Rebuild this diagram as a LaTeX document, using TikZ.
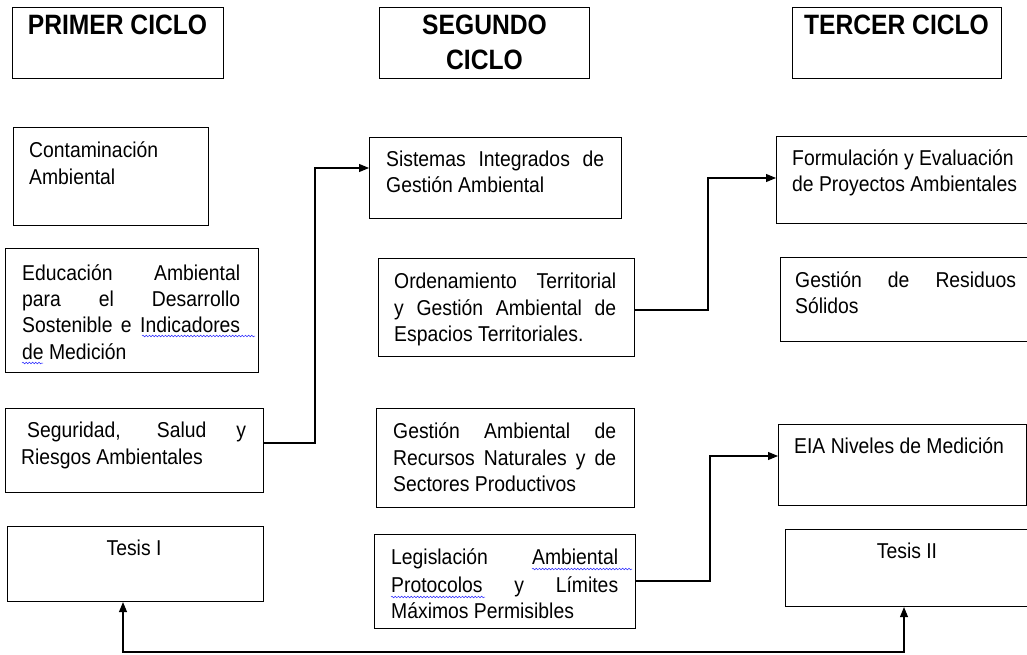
\documentclass[tikz,border=0pt]{standalone}
\usepackage{fontspec}
\setmainfont{Liberation Sans}[FakeStretch=0.9]
\newfontfamily\headfont{Liberation Sans}[FakeStretch=0.88]
\usetikzlibrary{arrows.meta,decorations.pathmorphing}
\newcommand\mytl[4]{\node[txt] (#1) at (#2,#3) {#4};}
\newcommand\jl[2]{\makebox[#1][s]{#2}}
\begin{document}
\begin{tikzpicture}[x=1pt,y=-1pt,
  box/.style={draw, line width=1.1pt, inner sep=0pt, anchor=north west},
  txt/.style={inner sep=0pt, anchor=base west, font=\fontsize{21.5}{25}\selectfont},
  ctxt/.style={inner sep=0pt, anchor=base, font=\fontsize{21.5}{25}\selectfont},
  head/.style={inner sep=0pt, anchor=base, font=\headfont\bfseries\fontsize{28}{32}\selectfont},
  conn/.style={line width=1.1pt, -{Triangle[length=10pt,width=8pt]}},
  conn2/.style={line width=1.1pt, {Triangle[length=10pt,width=8pt]}-{Triangle[length=10pt,width=8pt]}},
  squig/.style={blue!85, line width=0.5pt, decorate, decoration={snake, amplitude=0.8pt, segment length=3.2pt}}]
\clip (0,0) rectangle (1027,655);
\fill[white] (0,0) rectangle (1027,655);
% headers
\node[box, minimum width=211pt, minimum height=71pt] (h1) at (12,7) {};
\node[box, minimum width=210pt, minimum height=71pt] (h2) at (379,7) {};
\node[box, minimum width=209pt, minimum height=71pt] (h3) at (792,7) {};
\node[head] (h1t) at (117.5,35) {PRIMER CICLO};
\node[head] (h2t) at (484.5,35) {SEGUNDO};
\node[head] (h2u) at (484.5,70) {CICLO};
\node[head] (h3t) at (896.5,35) {TERCER CICLO};
% column 1
\node[box, minimum width=195pt, minimum height=98pt] (b1) at (13,127) {};
\node[box, minimum width=253pt, minimum height=124pt] (b2) at (5,248) {};
\node[box, minimum width=258pt, minimum height=84pt] (b3) at (5,408) {};
\node[box, minimum width=256pt, minimum height=75pt] (b4) at (7,526) {};
\mytl{b1a}{29}{158}{Contaminación}
\mytl{b1b}{29}{185}{Ambiental}
\mytl{b2a}{22}{280}{\jl{218pt}{Educación Ambiental}}
\mytl{b2b}{22}{306}{\jl{218pt}{para el Desarrollo}}
\mytl{b2c}{22}{332}{\jl{218pt}{Sostenible e Indicadores}}
\mytl{b2d}{22}{359}{de Medición}
\mytl{b3a}{27}{437}{\jl{219pt}{Seguridad, Salud y}}
\mytl{b3b}{21}{464}{Riesgos Ambientales}
\node[ctxt] (b4a) at (134,555) {Tesis I};
% column 2
\node[box, minimum width=252pt, minimum height=81pt] (s1) at (369,137) {};
\node[box, minimum width=256pt, minimum height=98pt] (s2) at (378,258) {};
\node[box, minimum width=258pt, minimum height=99pt] (s3) at (376,408) {};
\node[box, minimum width=261pt, minimum height=94pt] (s4) at (374,534) {};
\mytl{s1a}{386}{167}{\jl{218pt}{Sistemas Integrados de}}
\mytl{s1b}{386}{193}{Gestión Ambiental}
\mytl{s2a}{394}{288}{\jl{222pt}{Ordenamiento Territorial}}
\mytl{s2b}{394}{315}{\jl{222pt}{y Gestión Ambiental de}}
\mytl{s2c}{394}{341}{Espacios Territoriales.}
\mytl{s3a}{393}{438}{\jl{223pt}{Gestión Ambiental de}}
\mytl{s3b}{393}{465}{\jl{223pt}{Recursos Naturales y de}}
\mytl{s3c}{393}{491}{Sectores Productivos}
\mytl{s4a}{391}{564}{\jl{227pt}{Legislación Ambiental}}
\mytl{s4b}{391}{592}{\jl{227pt}{Protocolos y Límites}}
\mytl{s4c}{391}{618}{Máximos Permisibles}
% column 3
\node[box, minimum width=270pt, minimum height=87pt] (t1) at (776,136) {};
\node[box, minimum width=270pt, minimum height=84pt] (t2) at (780,257) {};
\node[box, minimum width=248pt, minimum height=81pt] (t3) at (778,424) {};
\node[box, minimum width=260pt, minimum height=77pt] (t4) at (785,529) {};
\mytl{t1a}{792}{166}{Formulación y Evaluación}
\mytl{t1b}{792}{192}{de Proyectos Ambientales}
\mytl{t2a}{795}{287}{\jl{221pt}{Gestión de Residuos}}
\mytl{t2b}{795}{313}{Sólidos}
\mytl{t3a}{794}{453}{EIA Niveles de Medición}
\node[ctxt] (t4a) at (907,558) {Tesis II};
% spell-check underlines
\draw[squig] (142,336) -- (255,336);
\draw[squig] (22,363) -- (43,363);
\draw[squig] (532,569) -- (632,569);
\draw[squig] (391,597) -- (485,597);
% connectors
\coordinate (k1) at (315,443);
\coordinate (k2) at (315,168);
\draw[conn] (b3.east |- k1) -- (k1) -- (k2) -- (s1.west |- k2);
\coordinate (k3) at (708,310);
\coordinate (k4) at (708,178);
\draw[conn] (s2.east |- k3) -- (k3) -- (k4) -- (t1.west |- k4);
\coordinate (k5) at (710,581);
\coordinate (k6) at (710,456);
\draw[conn] (s4.east |- k5) -- (k5) -- (k6) -- (t3.west |- k6);
\coordinate (k7) at (123,652);
\coordinate (k8) at (904,652);
\draw[conn2] (b4.south -| k7) -- (k7) -- (k8) -- (t4.south -| k8);
\end{tikzpicture}
\end{document}
